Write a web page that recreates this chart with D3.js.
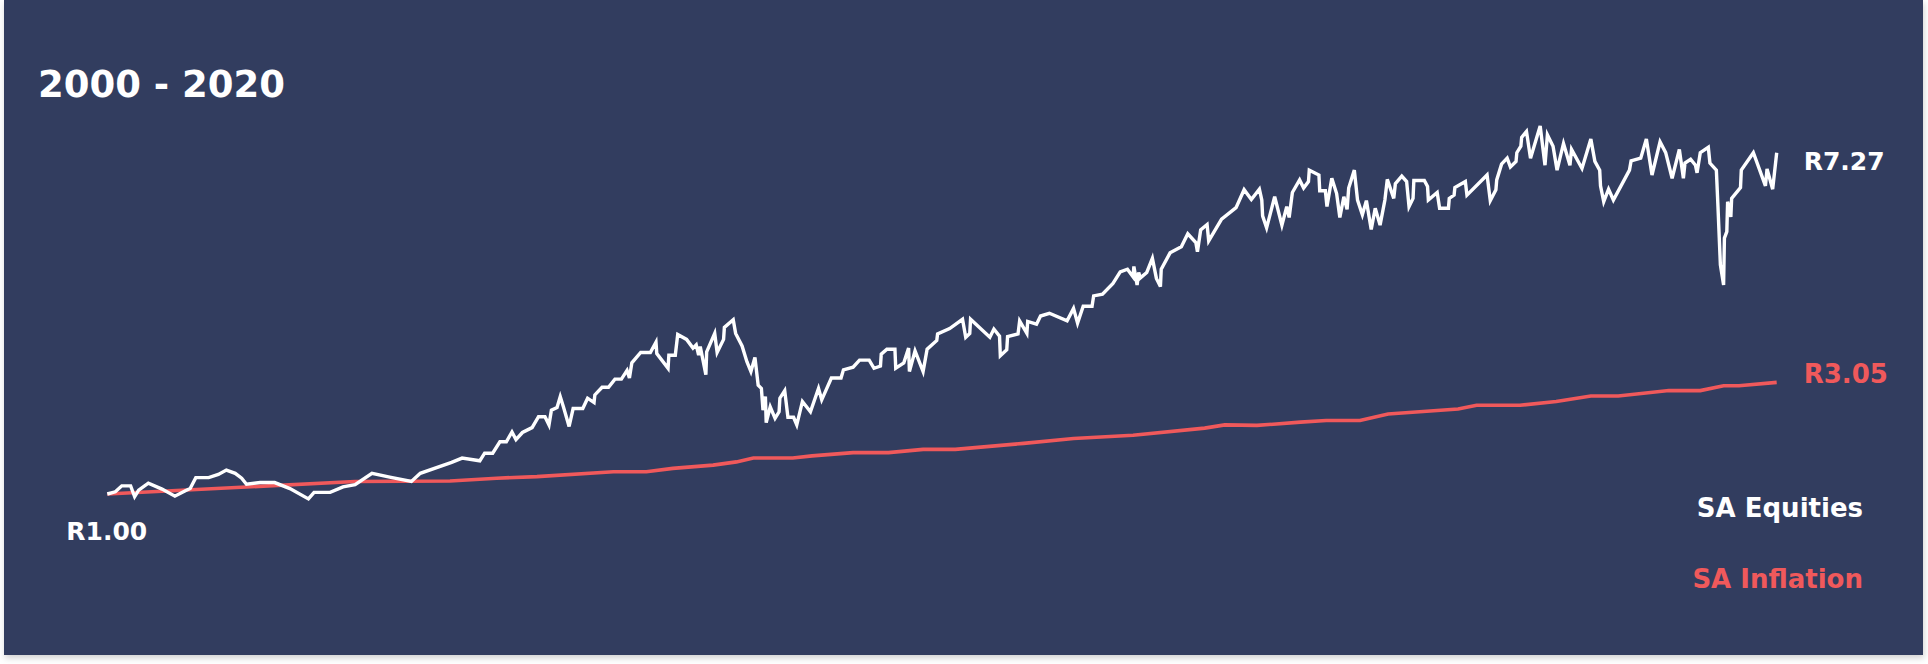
<!DOCTYPE html>
<html>
<head>
	<meta charset="utf-8">
	<title>SA Equities vs SA Inflation 2000 - 2020</title>
	<style>
		html, body {
			margin: 0;
			padding: 0;
			background: #ffffff;
		}
		svg {
			display: block;
		}
		/* all labels share the same heavy sans */
		.lbl {
			font-family: "DejaVu Sans", sans-serif;
			font-weight: bold;
		}
	</style>
</head>
<body>
	<div id="chart"></div>
<script src="https://d3js.org/d3.v7.min.js"></script>
<script>
	// Growth of R1 invested at the start of 2000
	// time is in years since Jan 2000
	var startYear = 2000;

	var equityYears = [0,0.10,0.18,0.29,0.34,0.39,0.51,0.68,0.84,0.97,1.03,1.10,1.26,1.38,1.48,1.59,1.67,1.73,1.90,2.08,2.27,2.50,2.57,2.77,2.93,3.08,3.29,3.51,3.78,3.89,
		4.28,4.41,4.63,4.69,4.79,4.88,4.96,5.03,5.08,5.16,5.28,5.36,5.44,5.49,5.52,5.59,5.63,5.67,5.74,5.79,5.91,5.97,6.05,6.06,6.15,6.23,6.31,6.39,6.46,6.49,6.52,6.63,6.75,6.82,6.83,6.97,6.98,7.06,7.09,7.20,7.28,7.32,7.35,7.37,7.44,7.45,7.55,7.58,7.66,7.67,7.78,7.81,7.89,7.95,8.00,8.05,8.09,8.13,8.15,8.18,8.19,8.24,8.30,8.35,8.36,8.42,8.46,8.53,8.57,
		8.64,8.74,8.84,8.88,9.00,9.12,9.15,9.27,9.35,9.47,9.53,9.61,9.62,9.69,9.79,9.80,9.90,9.96,9.97,10.04,10.14,10.19,10.31,10.32,10.47,10.63,10.67,10.72,10.73,10.97,11.02,11.09,11.10,11.18,11.19,11.32,11.34,11.43,11.44,11.55,11.60,11.71,11.93,12.01,12.06,12.13,12.24,12.26,12.37,12.50,12.59,12.68,12.75,12.76,12.80,12.82,12.84,
		12.92,12.99,13.04,13.09,13.10,13.21,13.35,13.43,13.53,13.55,13.59,13.67,13.69,13.85,14.03,14.13,14.22,14.32,14.35,14.36,14.41,14.51,14.60,14.66,14.69,14.73,14.82,14.87,14.93,14.94,15.06,15.07,15.14,15.16,15.22,15.28,15.32,15.37,15.41,15.43,15.50,15.54,15.60,15.65,15.71,15.76,15.82,15.88,15.91,15.99,16.01,16.09,16.15,16.18,16.23,16.24,16.37,16.41,16.42,16.53,16.56,16.67,16.68,16.74,16.75,16.88,16.90,17.15,17.19,17.26,17.27,
		17.33,17.40,17.44,17.51,17.52,17.57,17.58,17.64,17.69,17.81,17.87,17.90,17.97,18.02,18.10,18.18,18.20,18.33,18.44,18.49,18.55,18.56,18.60,18.66,18.72,18.92,18.94,19.06,19.13,19.20,19.30,19.37,19.45,19.54,19.59,19.61,19.68,19.74,19.76,19.80,19.90,19.92,20.00,20.02,20.05,20.09,20.10,20.13,20.14,20.18,20.19,20.30,20.31,20.46,20.61,20.63,20.70,20.75];

	var equityValues = [1.00,1.04,1.15,1.15,0.95,1.07,1.20,1.09,0.96,1.06,1.10,1.30,1.30,1.36,1.44,1.38,1.29,1.18,1.21,1.21,1.10,0.91,1.03,1.03,1.13,1.17,1.38,1.31,1.23,1.38,
		1.58,1.66,1.61,1.75,1.75,1.96,1.96,2.14,2.00,2.13,2.22,2.42,2.42,2.27,2.54,2.59,2.79,2.60,2.24,2.57,2.57,2.76,2.68,2.82,2.96,2.96,3.11,3.11,3.27,3.13,3.41,3.60,3.60,3.79,3.58,3.31,3.55,3.55,3.93,3.84,3.68,3.74,3.55,3.71,3.19,3.61,3.95,3.60,3.84,4.06,4.20,3.95,3.72,3.43,3.25,3.51,3.00,2.94,2.54,2.79,2.31,2.60,2.39,2.51,2.76,2.90,2.41,2.41,2.27,
		2.70,2.51,2.94,2.73,3.13,3.13,3.28,3.33,3.46,3.46,3.31,3.35,3.57,3.66,3.66,3.31,3.41,3.68,3.25,3.63,3.25,3.66,3.82,3.94,4.04,4.21,3.88,3.95,4.21,3.88,4.03,3.90,3.54,3.65,3.89,3.94,4.18,3.95,4.17,4.12,4.27,4.32,4.18,4.41,4.14,4.45,4.45,4.64,4.67,4.87,5.08,5.13,4.99,5.18,4.84,5.07,4.97,
		5.07,5.33,4.96,4.81,5.13,5.43,5.54,5.78,5.62,5.45,5.85,5.95,5.65,6.05,6.26,6.59,6.41,6.60,6.40,6.11,5.89,6.46,5.94,6.28,6.08,6.54,6.77,6.62,6.74,6.95,6.86,6.57,6.57,6.28,6.80,6.52,6.08,6.46,6.23,6.62,6.95,6.40,6.13,6.39,5.86,6.25,5.94,6.40,6.78,6.43,6.70,6.84,6.74,6.28,6.43,6.76,6.76,6.65,6.40,6.54,6.25,6.25,6.43,6.49,6.63,6.74,6.49,6.86,6.39,6.59,6.77,
		7.06,7.17,7.01,7.11,7.27,7.39,7.55,7.66,7.17,7.76,7.04,7.60,7.39,6.95,7.44,7.04,7.33,6.98,7.52,7.11,6.95,6.66,6.37,6.60,6.40,6.95,7.12,7.17,7.52,6.86,7.47,7.27,6.80,7.33,6.80,7.08,7.15,7.04,6.90,7.27,7.37,7.08,6.95,6.28,5.21,4.84,5.70,5.82,6.37,6.09,6.43,6.63,6.95,7.27,6.66,6.97,6.60,7.27];

	var inflationYears = [0,3.08,4.26,4.84,5.34,6.29,6.70,7.03,7.53,7.82,8.03,8.52,8.76,9.27,9.71,10.14,10.54,11.39,12.01,12.75,13.64,13.89,14.29,14.83,15.15,15.57,15.92,16.79,17.02,17.56,18.01,18.44,18.78,19.41,19.80,20.09,20.28,20.75];
	var inflationValues = [1.00,1.23,1.24,1.29,1.32,1.41,1.41,1.47,1.53,1.59,1.66,1.66,1.70,1.76,1.76,1.82,1.82,1.93,2.02,2.08,2.21,2.27,2.26,2.32,2.35,2.35,2.47,2.56,2.63,2.63,2.70,2.80,2.80,2.90,2.90,2.99,2.99,3.05];

	var seriesNames = ["SA Equities", "SA Inflation"];
	var seriesColors = ["#ffffff", "#f0595b"];
	var title = "2000 - 2020";

	var width = 1928, height = 664;

	var svg = d3.select("#chart")
		.append("svg")
			.attr("width", width)
			.attr("height", height);

	// soft shadow under the card
	var defs = svg.append("defs");
	var f = defs.append("filter")
		.attr("id", "shadow")
		.attr("x", "-2%").attr("y", "-2%")
		.attr("width", "104%").attr("height", "106%");
	f.append("feDropShadow")
		.attr("dx", 1).attr("dy", 3)
		.attr("stdDeviation", 3)
		.attr("flood-color", "#000")
		.attr("flood-opacity", 0.18);

	svg.append("rect")
		.attr("x", 4)
		.attr("y", 0)
		.attr("width", 1919)
		.attr("height", 655)
		.attr("fill", "#323e5e")
		.attr("filter", "url(#shadow)");

	// scales
	var x = d3.scaleLinear()
		.domain([startYear, startYear + 20.75])
		.range([107.3, 1776.7]);

	var y = d3.scaleLinear()
		.domain([1, 7.27])
		.range([494, 152.7]);

	var line = d3.line()
		.x(function(d) { return x(startYear + d[0]); })
		.y(function(d) { return y(d[1]); });

	var equity = equityYears.map(function(t, i) { return [t, equityValues[i]]; });
	var inflation = inflationYears.map(function(t, i) { return [t, inflationValues[i]]; });

	svg.append("path")
		.datum(inflation)
		.attr("fill", "none")
		.attr("stroke", seriesColors[1])
		.attr("stroke-width", 3.6)
		.attr("d", line);

	svg.append("path")
		.datum(equity)
		.attr("fill", "none")
		.attr("stroke", seriesColors[0])
		.attr("stroke-width", 3.4)
		.attr("stroke-linejoin", "miter")
		.attr("d", line);

	// title
	svg.append("text")
		.attr("class", "lbl")
		.attr("x", 38)
		.attr("y", 97)
		.attr("fill", "#ffffff")
		.style("font-size", "37px")
		.text(title);

	// start / end value labels
	var eqLast = equity[equity.length - 1];
	var infLast = inflation[inflation.length - 1];

	svg.append("text")
		.attr("class", "lbl")
		.attr("x", x(startYear) - 41)
		.attr("y", y(1) + 46)
		.attr("fill", "#ffffff")
		.style("font-size", "25px")
		.text("R" + d3.format(".2f")(1));

	svg.append("text")
		.attr("class", "lbl")
		.attr("x", x(startYear + eqLast[0]) + 27)
		.attr("y", y(eqLast[1]) + 17)
		.attr("fill", seriesColors[0])
		.style("font-size", "25px")
		.text("R" + d3.format(".2f")(eqLast[1]));

	svg.append("text")
		.attr("class", "lbl")
		.attr("x", x(startYear + infLast[0]) + 27)
		.attr("y", y(infLast[1]) + 1)
		.attr("fill", seriesColors[1])
		.style("font-size", "26px")
		.text("R" + d3.format(".2f")(infLast[1]));

	// legend
	svg.selectAll(".legend")
		.data(seriesNames)
		.enter()
		.append("text")
			.attr("class", "lbl legend")
			.attr("x", 1863)
			.attr("y", function(d, i) { return 517 + i * 70.5; })
			.attr("text-anchor", "end")
			.attr("fill", function(d, i) { return seriesColors[i]; })
			.style("font-size", "26px")
			.text(function(d) { return d; });
</script>
</body>
</html>
